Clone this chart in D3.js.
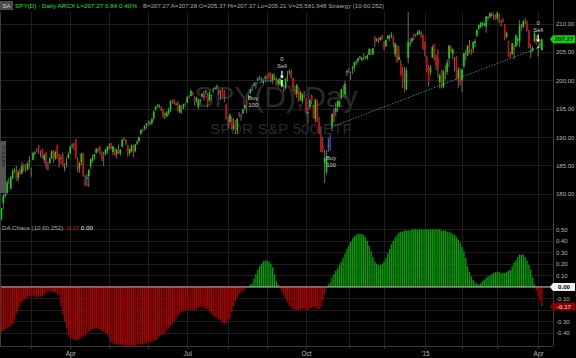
<!DOCTYPE html>
<html>
<head>
<meta charset="utf-8">
<script src="https://d3js.org/d3.v7.min.js"></script>
<style>
body { margin:0; background:#000; }
svg { display:block; font-family:"Liberation Sans", Arial, sans-serif; }
</style>
</head>
<body>
<script>
// SPY daily, Feb 6 2014 .. Apr 6 2015 : [open, high, low, close]
var candles = [
 [175.6,177.5,175.3,177.5],[178.3,179.9,177.3,179.7],[179.7,180.1,179.2,180.0],[180.2,182.4,179.9,182.0],[182.2,182.8,181.7,182.1],
 [180.9,183.1,180.8,183.0],[182.8,184.3,182.6,184.0],[184.1,184.6,183.6,184.2],[183.9,184.9,182.3,182.6],[182.8,184.2,182.2,183.8],
 [184.2,184.5,183.3,183.4],[183.6,185.6,183.5,184.9],[185.0,185.3,184.0,184.5],[184.8,185.2,183.8,184.6],[184.3,185.6,184.1,185.4],
 [185.6,186.7,184.4,185.9],
 // Mar 2014
 [184.3,184.6,183.0,184.0],[186.0,187.4,185.9,187.2],[187.2,187.5,186.8,187.3],[187.8,188.1,187.3,187.6],[188.4,188.6,187.0,187.7],
 [187.6,187.7,186.4,187.4],[187.8,188.0,186.2,186.6],[186.0,187.0,185.4,186.9],[187.2,187.4,184.4,184.9],[184.6,185.6,184.1,184.4],
 [185.4,186.5,185.3,186.2],[186.3,187.6,186.1,187.5],[187.5,187.7,185.5,186.4],[186.2,187.6,186.0,187.4],[188.5,188.7,186.2,186.3],
 [186.8,187.1,184.6,185.6],[186.3,186.9,185.2,186.3],[186.8,187.3,184.8,184.9],[184.5,185.4,183.9,184.7],[185.3,186.4,184.7,185.5],
 [186.3,187.3,186.2,187.0],
 // Apr 2014
 [187.1,188.4,187.1,188.3],[188.6,188.9,188.1,188.6],[188.8,189.0,187.7,188.5],[189.4,189.7,186.2,186.4],[185.9,186.4,183.8,184.3],
 [184.4,185.6,183.7,185.4],[185.6,187.1,185.0,187.1],[187.2,187.3,183.0,183.2],[182.0,183.3,181.3,181.5],[182.9,183.5,181.3,182.9],
 [183.1,184.4,181.2,184.2],[184.9,186.2,184.3,186.1],[185.8,186.9,185.5,186.4],[186.4,187.0,186.0,187.0],[187.2,188.1,187.1,187.9],
 [187.9,188.1,187.3,187.5],[188.3,188.4,186.9,187.8],[187.3,187.5,185.8,186.3],[186.9,187.4,184.9,186.8],[187.0,187.9,186.8,187.8],
 [187.5,188.3,187.0,188.3],
 // May 2014
 [188.2,188.9,187.8,188.3],[188.8,189.0,187.8,188.1],[187.4,188.4,186.8,188.4],[188.0,188.1,186.7,186.7],[187.1,188.0,186.2,187.7],
 [187.6,188.7,187.0,187.4],[187.1,187.9,186.7,187.7],[188.3,189.7,188.2,189.6],[189.8,190.0,189.3,189.7],[189.5,189.6,188.6,188.9],
 [188.5,188.6,186.5,187.1],[187.2,188.0,186.7,187.9],[187.6,188.7,187.3,188.5],[188.4,188.6,186.4,187.2],[187.5,188.8,187.3,188.7],
 [188.9,189.4,188.6,189.2],[189.3,190.0,189.1,190.0],[190.6,191.3,190.4,191.3],[191.2,191.5,190.9,191.0],[191.5,192.1,191.2,192.0],
 [192.2,192.5,191.4,192.4],
 // Jun 2014
 [192.9,192.9,191.9,192.7],[192.4,192.9,192.1,192.6],[192.5,193.4,192.1,193.2],[193.4,194.7,192.9,194.5],[194.9,195.4,194.6,195.4],
 [195.5,195.9,195.2,195.6],[195.4,195.8,195.1,195.6],[195.2,195.4,194.6,194.9],[194.8,195.0,193.4,193.5],[193.9,194.4,193.2,194.1],
 [193.6,194.6,193.6,194.3],[194.2,195.2,193.9,194.8],[194.8,196.5,194.4,196.3],[196.6,196.7,195.9,196.5],[196.6,196.6,195.8,195.9],
 [195.9,196.1,195.6,195.9],[195.7,196.3,194.5,194.7],[194.3,195.8,194.3,195.6],[195.5,195.6,194.1,195.4],[195.2,195.9,194.9,195.8],
 [195.8,196.1,195.4,195.7],
 // Jul 2014
 [196.1,197.3,196.0,197.0],[197.1,197.4,196.8,197.0],[197.2,198.3,197.2,198.2],[197.9,198.0,197.3,197.5],[197.0,197.2,195.6,196.2],
 [196.4,197.1,196.2,197.0],[195.3,196.8,194.9,196.4],[196.3,196.8,195.8,196.6],[197.3,197.8,196.9,197.6],[197.7,198.1,196.4,197.2],
 [198.1,198.3,197.5,198.2],[197.5,197.8,195.2,195.9],[196.5,198.0,196.2,197.9],[197.3,197.5,196.6,197.4],[198.3,198.7,197.8,198.4],
 [198.5,198.9,198.4,198.7],[199.0,199.3,198.4,199.0],[198.3,198.4,197.4,198.0],[198.0,198.3,196.5,198.1],[198.3,198.6,197.1,197.2],
 [198.0,198.3,196.2,197.2],[195.8,195.9,193.1,193.1],
 // Aug 2014
 [192.8,193.6,191.5,192.5],[192.7,194.2,192.1,193.9],[193.3,193.6,191.3,191.9],[191.5,193.3,191.2,192.0],[192.7,193.0,190.6,191.0],
 [191.1,193.4,190.5,193.2],[194.1,194.4,193.5,193.8],[193.6,194.1,192.9,193.5],[194.2,195.0,194.0,194.8],[195.1,195.7,194.7,195.6],
 [196.5,196.8,194.2,195.6],[196.8,197.5,196.6,197.4],[197.8,198.4,197.6,198.4],[198.1,199.2,198.1,198.9],[199.1,199.7,198.9,199.4],
 [199.3,199.7,198.5,199.2],[200.1,200.6,199.9,200.2],[200.3,200.8,200.2,200.3],[200.4,200.6,199.7,200.3],[199.6,200.3,199.2,199.9],
 [200.4,200.7,199.8,200.7],
 // Sep 2014
 [200.9,201.0,199.9,200.6],[201.4,201.4,200.2,200.5],[200.6,201.4,199.6,200.2],[200.1,201.1,199.4,201.1],[200.9,201.2,200.1,200.6],
 [200.4,200.6,199.1,199.3],[199.4,200.2,198.8,200.1],[199.3,200.3,199.1,200.3],[200.1,200.1,198.8,198.9],[198.9,199.3,197.9,198.8],
 [198.6,200.4,198.4,200.3],[200.5,201.7,199.8,200.7],[201.4,201.9,201.0,201.6],[201.5,201.9,200.3,200.7],[200.3,200.4,198.1,198.7],
 [198.3,199.1,197.5,197.6],[197.6,199.4,196.9,199.2],[198.7,198.8,196.2,196.3],[196.6,198.0,196.4,197.9],[196.3,197.7,195.9,197.5],
 [197.7,198.1,196.8,197.0],
 // Oct 2014
 [196.7,196.8,194.0,194.4],[194.3,195.3,192.4,194.4],[195.3,196.7,194.9,196.5],[197.3,197.5,195.8,196.3],[195.6,195.7,193.3,193.3],
 [193.2,196.8,192.6,196.6],[196.4,196.5,192.6,192.7],[192.6,193.6,190.5,190.5],[190.3,191.9,187.4,187.4],[188.4,190.0,187.3,187.7],
 [185.4,187.7,181.9,186.4],[183.9,187.7,183.4,186.3],[188.4,189.8,187.4,188.5],[187.9,190.5,187.6,190.3],[191.7,194.2,191.0,194.1],
 [194.7,195.1,192.6,192.7],[194.5,196.1,193.7,195.1],[195.3,196.4,194.4,196.4],[195.6,196.4,195.2,196.2],[196.8,198.5,196.8,198.4],
 [198.4,199.2,197.0,198.1],[197.6,199.9,196.8,199.4],[201.4,201.8,200.8,201.7],
 // Nov 2014
 [201.9,202.2,201.3,201.8],[201.3,201.6,200.1,201.1],[202.1,202.5,201.1,202.3],[202.3,203.3,201.6,203.2],[203.2,203.6,202.6,203.3],
 [203.4,204.0,203.0,203.9],[204.0,204.3,203.8,204.2],[203.6,204.1,203.4,204.0],[204.4,204.8,203.6,204.2],[204.2,204.3,203.7,204.2],
 [203.9,204.6,203.6,204.4],[204.5,205.7,204.5,205.5],[205.4,205.5,204.4,205.2],[204.6,205.7,204.5,205.6],[207.6,207.8,205.9,206.7],
 [207.0,207.4,206.8,207.3],[207.4,207.6,206.6,207.1],[207.1,207.6,207.0,207.6],[208.0,208.0,207.2,207.2],
 // Dec 2014
 [206.4,206.9,205.3,205.8],[206.0,207.2,205.9,207.1],[207.3,208.0,207.2,207.9],[207.5,208.1,206.9,207.7],[208.0,208.5,207.5,208.0],
 [207.6,207.9,205.8,206.5],[204.6,206.7,204.1,206.5],[206.2,206.3,203.2,203.2],[203.6,206.1,203.6,204.2],[203.0,203.6,200.9,200.9],
 [201.5,202.4,198.7,199.5],[198.6,202.4,197.9,197.9],[198.4,202.3,198.3,201.8],[204.0,212.9,203.0,206.8],[206.5,207.3,205.9,206.5],
 [206.9,207.5,206.5,207.5],[208.2,208.2,207.1,207.8],[207.9,208.2,207.6,207.8],[208.0,208.8,207.9,208.4],[208.2,208.9,208.1,208.7],
 [208.3,208.6,207.6,207.6],[207.9,208.2,205.4,205.5],
 // Jan 2015
 [206.4,206.9,204.2,205.4],[204.2,204.4,201.4,201.7],[202.1,202.7,198.9,199.8],[201.4,202.7,200.9,202.3],[204.0,206.2,203.9,205.9],
 [206.4,206.4,203.5,204.3],[204.4,204.6,201.8,202.7],[204.1,205.5,200.5,202.1],[199.7,201.2,198.6,200.9],[201.6,201.9,198.6,199.0],
 [198.8,201.8,198.6,201.6],[202.4,202.7,200.2,202.1],[201.5,203.7,201.0,203.1],[203.9,206.3,202.3,206.1],[205.8,206.1,204.8,205.0],
 [204.7,205.6,203.7,205.5],[202.9,204.1,201.6,202.7],[204.2,204.3,200.1,200.1],[200.4,202.3,198.7,201.9],[200.6,202.2,199.1,199.5],
 // Feb 2015
 [200.0,202.0,197.9,201.9],[202.5,204.9,202.1,204.8],[204.3,205.4,203.5,204.0],[204.4,206.2,204.3,206.1],[206.1,207.1,204.8,205.5],
 [205.1,205.6,204.5,204.6],[205.6,206.9,204.9,206.8],[206.6,207.3,205.9,206.9],[207.9,209.0,207.6,208.9],[209.1,209.8,208.9,209.8],
 [209.4,210.3,209.2,210.1],[209.8,210.2,209.5,210.2],[209.7,210.2,209.6,210.0],[209.5,211.3,208.4,211.3],[211.0,211.2,210.6,211.2],
 [211.2,212.0,210.9,211.8],[211.6,212.1,211.3,211.6],[211.6,211.8,210.7,211.4],[211.3,211.6,210.7,210.7],
 // Mar 2015
 [210.9,212.0,210.6,212.0],[211.6,211.8,210.1,211.1],[210.5,210.7,209.4,210.2],[210.6,211.0,210.2,210.5],[209.9,210.0,207.1,207.5],
 [207.7,208.6,207.4,208.4],[206.9,207.0,204.2,204.2],[204.6,205.0,203.9,204.0],[204.6,206.6,204.5,206.6],[206.0,206.3,203.7,205.3],
 [206.0,208.1,205.9,207.9],[207.0,207.5,206.1,207.4],[206.9,210.6,205.9,209.8],[209.3,210.0,208.7,208.9],[209.4,210.6,209.2,210.4],
 [210.4,211.0,209.9,209.9],[209.9,210.6,208.7,208.7],[208.7,208.9,205.7,205.7],[205.1,206.5,203.9,205.2],[205.3,206.0,205.0,205.7],
 [206.9,208.7,206.8,208.3],[207.6,207.9,206.3,206.4],
 // Apr 2015
 [206.0,206.5,204.2,205.7],[206.2,207.1,205.7,206.4],[205.37,207.37,205.21,207.27]
];

// DA Chaos (10,60,252), one value per bar
var chaos = [
 -0.39,-0.38,-0.37,-0.36,-0.35,-0.34,-0.32,-0.28,-0.23,-0.19,
 -0.16,-0.13,-0.11,-0.10,-0.09,-0.085,-0.08,-0.08,-0.085,-0.09,
 -0.09,-0.085,-0.08,-0.065,-0.05,-0.04,-0.037,-0.04,-0.045,-0.05,
 -0.06,-0.07,-0.17,-0.24,-0.30,-0.36,-0.42,-0.44,-0.45,-0.46,
 -0.46,-0.46,-0.45,-0.44,-0.43,-0.42,-0.40,-0.39,-0.38,-0.37,
 -0.36,-0.36,-0.36,-0.37,-0.38,-0.39,-0.40,-0.41,-0.44,-0.48,
 -0.49,-0.50,-0.50,-0.50,-0.50,-0.51,-0.51,-0.51,-0.51,-0.51,
 -0.51,-0.51,-0.51,-0.50,-0.50,-0.50,-0.50,-0.49,-0.49,-0.48,
 -0.48,-0.47,-0.47,-0.46,-0.45,-0.43,-0.42,-0.41,-0.40,-0.38,
 -0.36,-0.34,-0.32,-0.30,-0.28,-0.25,-0.23,-0.22,-0.21,-0.20,
 -0.20,-0.20,-0.20,-0.20,-0.20,-0.19,-0.18,-0.17,-0.17,-0.18,
 -0.19,-0.19,-0.21,-0.23,-0.25,-0.26,-0.27,-0.28,-0.29,-0.31,
 -0.32,-0.31,-0.29,-0.27,-0.22,-0.17,-0.12,-0.09,-0.06,-0.05,
 -0.04,-0.02,-0.01,-0.01,0.02,0.03,0.07,0.11,0.15,0.18,
 0.20,0.22,0.23,0.23,0.22,0.20,0.17,0.11,0.05,0.02,
 -0.01,-0.04,-0.07,-0.10,-0.13,-0.16,-0.18,-0.19,-0.20,-0.20,
 -0.20,-0.19,-0.19,-0.19,-0.20,-0.20,-0.19,-0.18,-0.17,-0.18,
 -0.19,-0.19,-0.17,-0.12,-0.06,-0.01,0.02,0.04,0.08,0.11,
 0.14,0.16,0.19,0.22,0.25,0.29,0.33,0.36,0.39,0.42,
 0.44,0.45,0.46,0.46,0.46,0.45,0.43,0.40,0.36,0.31,
 0.26,0.22,0.20,0.19,0.19,0.20,0.22,0.25,0.29,0.33,
 0.37,0.40,0.43,0.45,0.47,0.48,0.48,0.49,0.49,0.49,
 0.49,0.50,0.50,0.50,0.50,0.50,0.50,0.50,0.50,0.50,
 0.50,0.50,0.50,0.50,0.50,0.50,0.50,0.49,0.49,0.49,
 0.48,0.48,0.47,0.46,0.45,0.43,0.41,0.38,0.35,0.31,
 0.25,0.18,0.13,0.09,0.06,0.04,0.03,0.02,0.03,0.05,
 0.06,0.08,0.09,0.10,0.11,0.12,0.13,0.13,0.13,0.12,
 0.12,0.12,0.13,0.14,0.15,0.18,0.21,0.23,0.26,0.28,
 0.28,0.28,0.26,0.23,0.19,0.15,0.08,0.02,-0.03,-0.08,
 -0.12,-0.17
];

var monthTicks  = [16,37,58,79,100,122,143,164,187,206,228,248,267,289];
var monthLabels = ["","Apr","","","Jul","","","Oct","","","'15","","","Apr"];
var priceTicks = [180,185,190,195,200,205,210];
var chaosTicks = [0.5,0.4,0.3,0.2,0.1,0,-0.1,-0.2,-0.3,-0.4];
// labels hidden behind the value boxes
var chaosLabelTicks = [0.5,0.4,0.3,0.2,0.1,-0.1,-0.3,-0.4];

var buys  = [135,177];
var sells = [151,289];
// entry bar, entry price, exit bar, exit price
var trades = [[136,199.4,150,200.3],[178,191.8,290,205.9]];

var lastPrice = 207.27, lastChaos = -0.17;

var W = 576, H = 358, axisX = 553, bottomY = 346;

var svg = d3.select("body").append("svg").attr("width", W).attr("height", H);
svg.append("rect").attr("width", W).attr("height", H).attr("fill", "#000");

var x  = d3.scaleLinear().domain([0, 291]).range([1.5, 541.9]);
var y  = d3.scaleLinear().domain([180, 210]).range([193.8, 23.7]);
var yc = d3.scaleLinear().domain([-0.4, 0.5]).range([333, 229.3]);

// clip for price panel
svg.append("clipPath").attr("id", "pclip")
   .append("rect").attr("x", 0).attr("y", 12).attr("width", axisX).attr("height", 209);

// grid
var grid = svg.append("g").attr("stroke", "#1f1f1f").attr("stroke-width", 1);
grid.selectAll(".vg").data(monthTicks).enter().append("line")
    .attr("x1", function(d){ return Math.round(x(d)) + 0.5; })
    .attr("x2", function(d){ return Math.round(x(d)) + 0.5; })
    .attr("y1", 12).attr("y2", bottomY);
grid.selectAll(".hg").data(priceTicks).enter().append("line")
    .attr("x1", 0).attr("x2", axisX)
    .attr("y1", function(d){ return Math.round(y(d)) + 0.5; })
    .attr("y2", function(d){ return Math.round(y(d)) + 0.5; });
grid.selectAll(".cg").data(chaosTicks).enter().append("line")
    .attr("x1", 0).attr("x2", axisX)
    .attr("y1", function(d){ return Math.round(yc(d)) + 0.5; })
    .attr("y2", function(d){ return Math.round(yc(d)) + 0.5; });

// watermark
svg.append("text").attr("x", 276).attr("y", 107).attr("text-anchor", "middle")
   .attr("font-size", 30).attr("fill", "#2a2a2a").text("SPY(D);Day");
svg.append("text").attr("x", 281).attr("y", 134).attr("text-anchor", "middle")
   .attr("font-size", 15.5).attr("fill", "#2a2a2a").text("SPDR S&P 500 ETF");

// candles
var price = svg.append("g").attr("clip-path", "url(#pclip)");

price.selectAll(".wick").data(candles).enter().append("line")
     .attr("x1", function(d, i){ return x(i); })
     .attr("x2", function(d, i){ return x(i); })
     .attr("y1", function(d){ return y(d[1]); })
     .attr("y2", function(d){ return y(d[2]); })
     .attr("stroke", "#8a8a8a").attr("stroke-width", 0.8);

price.selectAll(".body").data(candles).enter().append("rect")
     .attr("x", function(d, i){ return x(i) - 0.75; })
     .attr("width", 1.5)
     .attr("y", function(d){ return y(Math.max(d[0], d[3])); })
     .attr("height", function(d){ return Math.max(1, Math.abs(y(d[0]) - y(d[3]))); })
     .attr("fill", function(d, i){
        if (buys.indexOf(i) >= 0) return "#2030ff";
        if (sells.indexOf(i) >= 0) return "#ffffff";
        return d[3] >= d[0] ? "#00e600" : "#ee0000";
     });

// trade lines
price.selectAll(".trade").data(trades).enter().append("line")
     .attr("x1", function(d){ return x(d[0]); })
     .attr("y1", function(d){ return y(d[1]); })
     .attr("x2", function(d){ return x(d[2]); })
     .attr("y2", function(d){ return y(d[3]); })
     .attr("stroke", "#1fa5a5").attr("stroke-width", 1)
     .attr("stroke-dasharray", "1.2,1.6");

// buy labels
buys.forEach(function(i) {
  var lowY = y(candles[i][2]);
  var g = svg.append("g").attr("fill", "#c8c8c8").attr("font-size", 6).attr("text-anchor", "middle");
  g.append("text").attr("x", x(i) + 1).attr("y", lowY + 9).text("Buy");
  g.append("text").attr("x", x(i) + 1).attr("y", lowY + 16).text("100");
});

// sell labels
sells.forEach(function(i) {
  var hiY = y(candles[i][1]);
  var cx = x(i);
  svg.append("line").attr("x1", cx).attr("x2", cx).attr("y1", hiY - 9).attr("y2", hiY - 3)
     .attr("stroke", "#fff").attr("stroke-width", 1.2);
  svg.append("path")
     .attr("d", "M" + (cx - 2) + "," + (hiY - 4) + "L" + (cx + 2) + "," + (hiY - 4) + "L" + cx + "," + (hiY - 1) + "Z")
     .attr("fill", "#fff");
  var g = svg.append("g").attr("fill", "#c8c8c8").attr("font-size", 6).attr("text-anchor", "middle");
  g.append("text").attr("x", cx).attr("y", hiY - 12).text("Sell");
  g.append("text").attr("x", cx).attr("y", hiY - 19).text("0");
});

// chaos histogram
svg.append("g").selectAll("rect").data(chaos).enter().append("rect")
   .attr("x", function(d, i){ return x(i) - 0.65; })
   .attr("width", 1.3)
   .attr("y", function(d){ return Math.min(yc(d), yc(0)); })
   .attr("height", function(d){ return Math.abs(yc(d) - yc(0)); })
   .attr("fill", function(d){ return d >= 0 ? "#00a400" : "#b00000"; });

svg.append("line").attr("x1", 0).attr("x2", axisX)
   .attr("y1", yc(0)).attr("y2", yc(0))
   .attr("stroke", "#bdbdbd").attr("stroke-width", 1);

// right price axis
var pAxis = svg.append("g").attr("transform", "translate(" + axisX + ",0)")
   .call(d3.axisRight(y).tickValues(priceTicks).tickSize(0).tickPadding(3).tickFormat(d3.format(".2f")));
var cAxis = svg.append("g").attr("transform", "translate(" + axisX + ",0)")
   .call(d3.axisRight(yc).tickValues(chaosLabelTicks).tickSize(0).tickPadding(3)
         .tickFormat(function(d){ return d3.format(".2f")(d).replace("\u2212", "-"); }));
[pAxis, cAxis].forEach(function(a) {
  a.select(".domain").remove();
  a.selectAll("text").attr("fill", "#b8b8b8").attr("font-size", 6)
   .attr("font-family", "'Liberation Sans Narrow','Liberation Sans',Arial,sans-serif");
});
svg.append("line").attr("x1", axisX + 0.5).attr("x2", axisX + 0.5).attr("y1", 0).attr("y2", bottomY)
   .attr("stroke", "#3a3a3a");

// bottom time axis
var tAxis = svg.append("g").attr("transform", "translate(0," + bottomY + ")")
   .call(d3.axisBottom(x).tickValues(monthTicks).tickSize(3).tickPadding(2)
         .tickFormat(function(d, i){ return monthLabels[i]; }));
tAxis.select(".domain").attr("stroke", "#3a3a3a").attr("d", "M0,0.5H" + axisX);
tAxis.selectAll("line").attr("stroke", "#3a3a3a");
tAxis.selectAll("text").attr("fill", "#b8b8b8").attr("font-size", 6.5);

// value boxes on axis
function valueBox(yy, label, bg, fg) {
  svg.append("path")
     .attr("d", "M" + (axisX - 3) + "," + yy + "L" + axisX + "," + (yy - 4) + "H" + 575 + "V" + (yy + 4) + "H" + axisX + "Z")
     .attr("fill", bg);
  svg.append("text").attr("x", 564).attr("y", yy + 2.2).attr("text-anchor", "middle")
     .attr("font-size", 6.2).attr("font-weight", "bold").attr("fill", fg)
     .attr("font-family", "'Liberation Sans Narrow','Liberation Sans',Arial,sans-serif")
     .text(label);
}
valueBox(y(lastPrice), d3.format(".2f")(lastPrice), "#00d800", "#000");
valueBox(yc(0), "0.00", "#f0f0f0", "#000");
valueBox(yc(lastChaos), "-0.17", "#8a0000", "#e8a0a0");

// header
svg.append("rect").attr("x", 0).attr("y", 1).attr("width", 13).attr("height", 9).attr("fill", "#4a4a4a");
svg.append("text").attr("x", 6.5).attr("y", 8).attr("text-anchor", "middle")
   .attr("font-size", 6).attr("fill", "#d0d0d0").text("SA");
svg.append("text").attr("x", 15).attr("y", 8).attr("font-size", 6.2).attr("fill", "#1ee01e")
   .attr("textLength", 122).attr("lengthAdjust", "spacingAndGlyphs")
   .text("SPY(D) - Daily  ARCX  L=207.27  0.84  0.40%");
svg.append("text").attr("x", 143).attr("y", 8).attr("font-size", 6.2).attr("fill", "#a8a8a8")
   .attr("textLength", 241).attr("lengthAdjust", "spacingAndGlyphs")
   .text("B=207.27  A=207.28  O=205.37  Hi=207.37  Lo=205.21  V=25,581,948  Strategy (10,60,252)");

// indicator title
var t = svg.append("text").attr("x", 2).attr("y", 229.5).attr("font-size", 6.2);
t.append("tspan").attr("fill", "#a8a8a8").text("DA  Chaos (10,60,252)  ");
t.append("tspan").attr("fill", "#d01010").text("-0.17  ");
t.append("tspan").attr("fill", "#e8e8e8").text("0.00");

// side tab
svg.append("line").attr("x1", 0.5).attr("x2", 0.5).attr("y1", 12).attr("y2", bottomY).attr("stroke", "#3a3a3a");
svg.append("rect").attr("x", 0).attr("y", 141).attr("width", 6).attr("height", 52).attr("fill", "#555");
svg.append("text").attr("transform", "translate(2,145) rotate(90)")
   .attr("font-size", 5).attr("fill", "#222").text("Strategies");
</script>
</body>
</html>
